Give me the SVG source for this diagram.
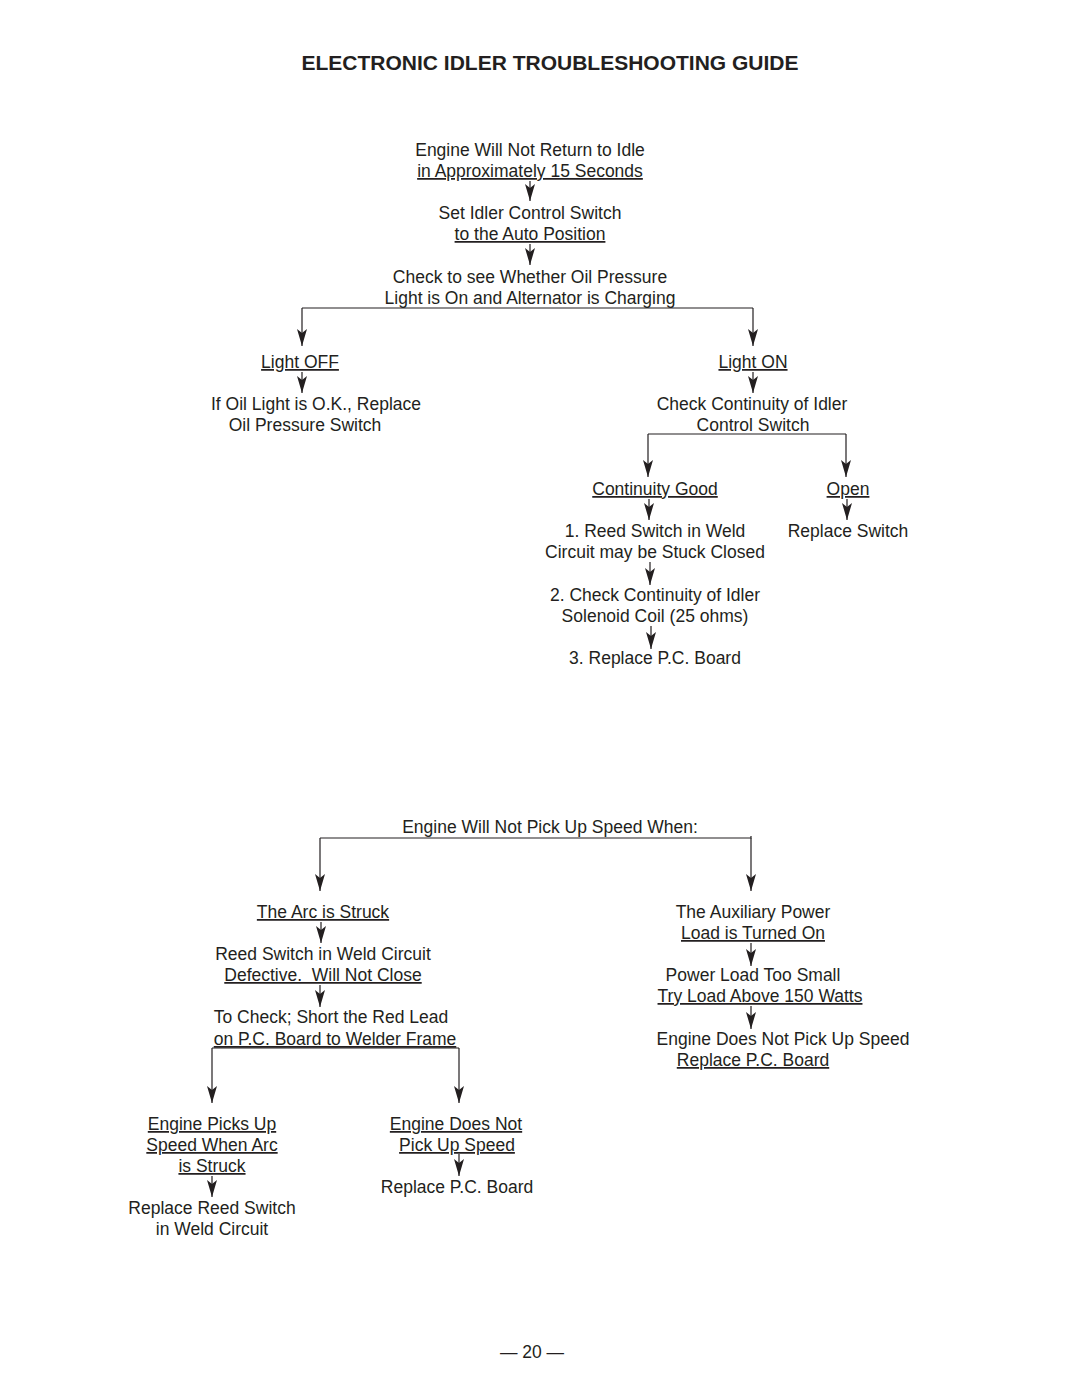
<svg xmlns="http://www.w3.org/2000/svg" width="1080" height="1397" viewBox="0 0 1080 1397">
<defs>
<style>
text{font-family:"Liberation Sans",Arial,sans-serif;font-size:17.5px;fill:#231f20;text-anchor:middle}
.u{text-decoration:underline}
.title{font-weight:bold;font-size:21px}
.c{stroke:#231f20;stroke-width:1.2;fill:none}
</style>
<marker id="a" markerUnits="userSpaceOnUse" markerWidth="17" markerHeight="10" viewBox="0 0 17 10" refX="17" refY="5" orient="auto">
<path d="M0,0 L17,5 L0,10 L4,5 z" fill="#231f20"/>
</marker>
</defs>
<rect width="1080" height="1397" fill="#fff"/>
<text class="title" x="550" y="70">ELECTRONIC IDLER TROUBLESHOOTING GUIDE</text>

<g id="connectors">
<path class="c" d="M530,181 V201" marker-end="url(#a)"/>
<path class="c" d="M530,244 V265" marker-end="url(#a)"/>
<path class="c" d="M302,308 H753"/>
<path class="c" d="M302,308 V346" marker-end="url(#a)"/>
<path class="c" d="M753,308 V346" marker-end="url(#a)"/>
<path class="c" d="M302,372 V393" marker-end="url(#a)"/>
<path class="c" d="M753,372 V393" marker-end="url(#a)"/>
<path class="c" d="M648,434 H846"/>
<path class="c" d="M648,434 V477" marker-end="url(#a)"/>
<path class="c" d="M846,434 V477" marker-end="url(#a)"/>
<path class="c" d="M649,499 V520" marker-end="url(#a)"/>
<path class="c" d="M847,499 V520" marker-end="url(#a)"/>
<path class="c" d="M650,562 V585" marker-end="url(#a)"/>
<path class="c" d="M651,626 V649" marker-end="url(#a)"/>
<path class="c" d="M320,838 H751 V836"/>
<path class="c" d="M320,838 V891" marker-end="url(#a)"/>
<path class="c" d="M751,838 V891" marker-end="url(#a)"/>
<path class="c" d="M321,922 V943" marker-end="url(#a)"/>
<path class="c" d="M320,985 V1007" marker-end="url(#a)"/>
<path class="c" d="M212,1048 H459"/>
<path class="c" d="M212,1048 V1103" marker-end="url(#a)"/>
<path class="c" d="M459,1048 V1103" marker-end="url(#a)"/>
<path class="c" d="M212,1176 V1197" marker-end="url(#a)"/>
<path class="c" d="M459,1154 V1176" marker-end="url(#a)"/>
<path class="c" d="M751,943 V966" marker-end="url(#a)"/>
<path class="c" d="M751,1006 V1029" marker-end="url(#a)"/>
</g>

<g id="n1"><text x="530" y="156">Engine Will Not Return to Idle</text><text class="u" x="530" y="177">in Approximately 15 Seconds</text></g>
<g id="n2"><text x="530" y="219">Set Idler Control Switch</text><text class="u" x="530" y="240">to the Auto Position</text></g>
<g id="n3"><text x="530" y="283">Check to see Whether Oil Pressure</text><text x="530" y="304">Light is On and Alternator is Charging</text></g>
<g id="n4"><text class="u" x="300" y="368">Light OFF</text></g>
<g id="n5"><text x="316" y="410">If Oil Light is O.K., Replace</text><text x="305" y="431">Oil Pressure Switch</text></g>
<g id="n6"><text class="u" x="753" y="368">Light ON</text></g>
<g id="n7"><text x="752" y="410">Check Continuity of Idler</text><text x="753" y="431">Control Switch</text></g>
<g id="n8"><text class="u" x="655" y="495">Continuity Good</text></g>
<g id="n9"><text class="u" x="848" y="495">Open</text></g>
<g id="n10"><text x="655" y="537">1. Reed Switch in Weld</text><text x="655" y="558">Circuit may be Stuck Closed</text></g>
<g id="n11"><text x="848" y="537">Replace Switch</text></g>
<g id="n12"><text x="655" y="601">2. Check Continuity of Idler</text><text x="655" y="622">Solenoid Coil (25 ohms)</text></g>
<g id="n13"><text x="655" y="664">3. Replace P.C. Board</text></g>

<g id="m1"><text x="550" y="833">Engine Will Not Pick Up Speed When:</text></g>
<g id="m2"><text class="u" x="323" y="918">The Arc is Struck</text></g>
<g id="m3"><text x="323" y="960">Reed Switch in Weld Circuit</text><text class="u" x="323" y="981" xml:space="preserve">Defective.  Will Not Close</text></g>
<g id="m4"><text x="331" y="1023">To Check; Short the Red Lead</text><text class="u" x="335" y="1045">on P.C. Board to Welder Frame</text></g>
<g id="m5"><text class="u" x="212" y="1130">Engine Picks Up</text><text class="u" x="212" y="1151">Speed When Arc</text><text class="u" x="212" y="1172">is Struck</text></g>
<g id="m6"><text x="212" y="1214">Replace Reed Switch</text><text x="212" y="1235">in Weld Circuit</text></g>
<g id="m7"><text class="u" x="456" y="1130">Engine Does Not</text><text class="u" x="457" y="1151">Pick Up Speed</text></g>
<g id="m8"><text x="457" y="1193">Replace P.C. Board</text></g>
<g id="m9"><text x="753" y="918">The Auxiliary Power</text><text class="u" x="753" y="939">Load is Turned On</text></g>
<g id="m10"><text x="753" y="981">Power Load Too Small</text><text class="u" x="760" y="1002">Try Load Above 150 Watts</text></g>
<g id="m11"><text x="783" y="1045">Engine Does Not Pick Up Speed</text><text class="u" x="753" y="1066">Replace P.C. Board</text></g>

<text x="532" y="1358">— 20 —</text>
</svg>
